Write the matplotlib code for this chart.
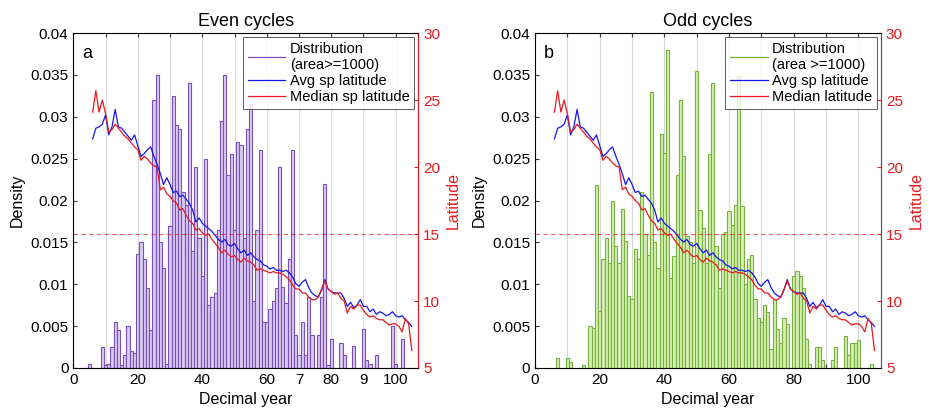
import numpy as np
import matplotlib
matplotlib.use("Agg")
from matplotlib import pyplot as plt
from matplotlib.lines import Line2D
from matplotlib.ticker import FuncFormatter

plt.rcParams['font.family'] = ['Liberation Sans', 'DejaVu Sans']

# histogram bin centres (decimal year)
years = np.arange(5, 106)

# density of even cycles (area >= 1000)
even_density = [
    .0005, 0, 0, 0, .0025, .0003, .0005, .0025, .0055, .0045,
    .0003, .0015, .005, .002, .0018, .0136, .0151, .013, .0095, .0045,
    .032, .035, .015, .012, .0005, .017, .0325, .029, .0286, .021,
    .0195, .034, .014, .024, .0155, .011, .025, .0075, .0085, .009,
    .0165, .0295, .035, .023, .0256, .0165, .027, .0266, .0155, .0285,
    .0315, .008, .0165, .026, .0055, .0055, .007, .008, .0095, .024,
    .0097, .0078, .013, .026, .004, .0015, .0055, .0015, .0085, .004,
    0, .004, .0085, .022, .0003, .0035, 0, 0, .003, .0015,
    0, 0, .0026, 0, 0, .0046, .001, .0005, 0, .0015,
    0, 0, 0, 0, .005, .0005, 0, .0035, 0, 0,
    0,
]

# density of odd cycles (area >= 1000)
odd_density = [
    0, 0, .0012, 0, 0, .0012, .0007, 0, 0, 0,
    .0004, 0, .005, .0048, .0218, .0068, .013, .0155, .0125, .02,
    .0146, .0125, .019, .0152, .0086, .0082, .0142, .013, .021, .016,
    .0135, .033, .015, .012, .028, .0257, .038, .0108, .0134, .023,
    .032, .0253, .0158, .015, .0125, .0355, .0189, .0167, .0125, .0256,
    .034, .0146, .0095, .016, .0162, .0187, .0171, .0195, .035, .0193,
    .01, .013, .0135, .0082, .006, .0055, .0075, .0067, .0023, .0082,
    .0047, .003, .006, .0053, 0, .011, .0116, .011, .0095, .0035,
    .0005, 0, .0025, .0025, .001, 0, 0, .001, .0025, 0,
    0, .0038, .0015, .003, .003, .0034, 0, 0, 0, .0005,
    0,
]

# latitude curves
lat_years = np.arange(6, 106)
avg_lat = [
    22.1, 22.9, 23.0, 23.2, 23.9, 22.4, 23.0, 24.3, 23.0, 22.9,
    22.6, 22.3, 22.0, 22.4, 21.6, 20.8, 21.0, 21.3, 21.5, 20.8,
    20.2, 19.5, 18.7, 19.2, 18.7, 18.1, 18.2, 17.8, 17.9, 17.6,
    17.3, 16.8, 15.9, 16.2, 15.8, 15.6, 15.4, 15.2, 14.9, 14.6,
    14.4, 14.6, 14.2, 14.1, 14.3, 13.9, 13.6, 13.8, 13.4, 13.6,
    13.3, 13.1, 13.0, 12.7, 12.6, 12.4, 12.5, 12.3, 12.3, 12.2,
    12.3, 12.1, 11.8, 11.3, 11.1, 11.4, 11.6, 11.0, 10.6, 10.4,
    10.3, 10.8, 11.6, 10.9, 10.7, 10.6, 10.6, 10.6, 10.2, 9.6,
    9.9, 9.5, 9.7, 10.1, 9.6, 9.6, 9.2, 9.4, 9.0, 9.2,
    9.1, 8.9, 9.0, 9.2, 8.9, 8.8, 8.9, 8.6, 8.4, 8.1,
]
median_lat = [
    24.1, 25.7, 24.1, 25.0, 24.0, 22.6, 22.8, 23.2, 22.9, 22.6,
    22.3, 22.1, 21.8, 21.5, 21.3, 20.5, 20.8, 20.6, 20.3, 20.1,
    20.0, 18.3, 18.5, 18.0, 17.8, 17.5, 17.3, 16.8, 16.9, 16.4,
    16.0, 15.8, 15.3, 15.4, 15.1, 14.9, 15.0, 14.6, 14.3, 14.0,
    13.6, 13.8, 13.5, 13.3, 13.4, 13.1, 12.9, 13.2, 13.0, 12.9,
    12.7, 12.3, 12.4, 12.3, 12.2, 12.1, 12.2, 12.1, 12.1, 12.0,
    11.8, 11.6, 11.2, 10.9, 10.9, 10.6, 10.6, 10.3, 10.1, 10.1,
    10.3, 10.9, 11.5, 10.9, 10.7, 10.5, 10.6, 10.2, 10.0, 9.1,
    9.6, 9.4, 9.7, 9.7, 9.3, 9.0, 8.8, 8.9, 8.7, 8.6,
    8.6, 8.4, 8.2, 8.3, 8.3, 8.1, 7.7, 8.7, 8.3, 6.3,
]

even_xticklabels = ['0', '', '20', '', '40', '', '60', '7', '80', '9', '100']
odd_xticklabels = ['0', '', '20', '', '40', '', '60', '', '80', '', '100']

panels = [
    dict(title='Even cycles', letter='a', dens=even_density, edge='#7A4FB8', face='#D9CAF1',
         xlabels=even_xticklabels,
         legend=['Distribution\n(area>=1000)', 'Avg sp latitude', 'Median sp latitude']),
    dict(title='Odd cycles', letter='b', dens=odd_density, edge='#78B040', face='#D5EFB0',
         xlabels=odd_xticklabels,
         legend=['Distribution\n(area >=1000)', 'Avg sp latitude', 'Median latitude']),
]

fig = plt.figure(figsize=(9.3, 4.16), dpi=100)
positions = [[0.0788, 0.1154, 0.371, 0.805], [0.5753, 0.1154, 0.372, 0.805]]
red = '#E8191C'
blue = '#1515F0'

for pos, p in zip(positions, panels):
    ax = fig.add_axes(pos)
    ax.set_axisbelow(True)
    ax.bar(years, p['dens'], width=1.0, color=p['face'], edgecolor=p['edge'], linewidth=0.8)
    ax.set_xlim(0, 107)
    ax.set_ylim(0, 0.04)
    ax.set_xticks(np.arange(0, 101, 10))
    ax.set_xticklabels(p['xlabels'])
    ax.set_yticks(np.arange(0, 0.0401, 0.005))
    ax.yaxis.set_major_formatter(FuncFormatter(lambda v, _: '%g' % round(v, 4)))
    ax.grid(axis='x', color='#d9d9d9', linewidth=0.8)
    ax.tick_params(direction='in', labelsize=11, length=3, top=True, color='#333333')
    ax.set_xlabel('Decimal year', fontsize=11.5)
    ax.set_ylabel('Density', fontsize=11.5)
    ax.set_title(p['title'], fontsize=13, pad=5)
    ax.text(0.025, 0.965, p['letter'], transform=ax.transAxes, fontsize=13, va='top', ha='left')
    for s in ['left', 'bottom', 'top']:
        ax.spines[s].set_color('#333333')
        ax.spines[s].set_linewidth(0.7)

    ax2 = ax.twinx()
    ax2.plot(lat_years, avg_lat, color=blue, linewidth=0.9)
    ax2.plot(lat_years, median_lat, color=red, linewidth=0.9)
    ax2.axhline(15, color=red, linestyle='--', linewidth=0.8, alpha=0.7, dashes=(4, 3))
    ax2.set_ylim(5, 30)
    ax2.set_yticks(np.arange(5, 31, 5))
    ax2.tick_params(direction='in', labelsize=11, length=3, colors=red)
    ax2.spines['right'].set_color(red)
    ax2.spines['right'].set_linewidth(0.7)
    ax2.set_ylabel('Latitude', color=red, fontsize=11.5)

    handles = [Line2D([], [], color=p['edge'], linewidth=0.9),
               Line2D([], [], color=blue, linewidth=0.9),
               Line2D([], [], color=red, linewidth=0.9)]
    leg = ax2.legend(handles, p['legend'], loc='upper right', fontsize=10.5, frameon=True,
                     fancybox=False, edgecolor='#333333', handlelength=2.6, handletextpad=0.3,
                     borderpad=0.3, labelspacing=0.15, borderaxespad=0.3)
    leg.get_frame().set_linewidth(0.7)
    for t in leg.get_texts():
        t.set_multialignment('left')

fig.savefig('out.png', dpi=100)
